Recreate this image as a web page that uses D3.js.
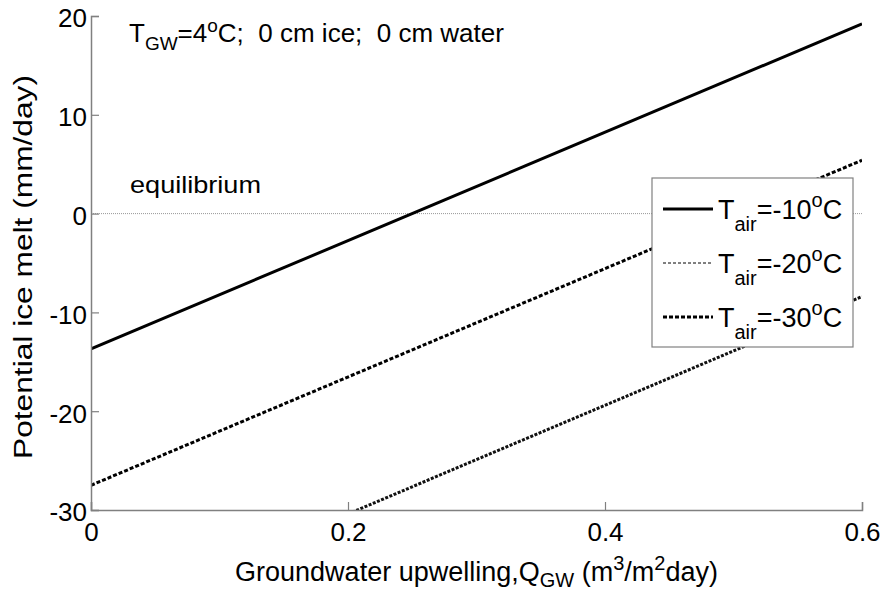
<!DOCTYPE html>
<html>
<head>
<meta charset="utf-8">
<script src="https://cdn.jsdelivr.net/npm/d3@7"></script>
<style>
html,body{margin:0;padding:0;background:#fff;}
text{font-family:"Liberation Sans",Arial,sans-serif;fill:#000;white-space:pre;}
</style>
</head>
<body>
<svg id="chart" width="883" height="596"></svg>
<script>
// Data
const qgw = [0, 0.6];
const meltTair10 = [-13.7, 19.2];
const meltTair20 = [-41.4, -8.4];
const meltTair30 = [-27.5, 5.4];
const xTicks = [0, 0.2, 0.4, 0.6];
const yTicks = [-30, -20, -10, 0, 10, 20];
const legendTemps = ["-10", "-20", "-30"];

const svg = d3.select("#chart");
const L = 91, T = 16, R = 862, B = 510;
const x = d3.scaleLinear().domain([0, 0.6]).range([L, R]);
const y = d3.scaleLinear().domain([-30, 20]).range([B, T]);

svg.append("defs").append("clipPath").attr("id","clip")
  .append("rect").attr("x", L).attr("y", T).attr("width", R - L).attr("height", B - T);

// equilibrium line
svg.append("line").attr("x1", x(0)).attr("x2", x(0.6)).attr("y1", y(0)).attr("y2", y(0))
  .attr("stroke", "#999").attr("stroke-width", 1).attr("stroke-dasharray", "1,1");

const line = d3.line().x(d => x(d[0])).y(d => y(d[1]));
const g = svg.append("g").attr("clip-path", "url(#clip)");
const series = [
  {v: meltTair10, w: 3, dash: null, c: "#000"},
  {v: meltTair30, w: 3, dash: "4,2", c: "#000"},
  {v: meltTair20, w: 3, dash: "3,1.5", c: "#111"}
];
series.forEach(s => {
  g.append("path").datum(qgw.map((q, i) => [q, s.v[i]]))
    .attr("d", line).attr("fill", "none").attr("stroke", s.c)
    .attr("stroke-width", s.w).attr("stroke-dasharray", s.dash);
});

// axes
const axisColor = "#808080";
const fmt = d => (d < 0 ? "-" : "") + (Number.isInteger(d) ? Math.abs(d) : d3.format(".1f")(Math.abs(d)));
const xAxis = svg.append("g").attr("transform", `translate(0,${B})`)
  .call(d3.axisBottom(x).tickValues(xTicks).tickSize(-8).tickPadding(13).tickFormat(fmt));
const yAxis = svg.append("g").attr("transform", `translate(${L},0)`)
  .call(d3.axisLeft(y).tickValues(yTicks).tickSize(-8).tickPadding(4).tickFormat(fmt));
[xAxis, yAxis].forEach(a => {
  a.select(".domain").attr("stroke", axisColor).attr("stroke-width", 1.5);
  a.selectAll(".tick line").attr("stroke", axisColor).attr("stroke-width", 1.2);
  a.selectAll(".tick text").attr("font-size", 26).attr("font-family", "Liberation Sans, Arial, sans-serif").attr("fill", "#000");
});
yAxis.selectAll(".tick text").attr("dy", "0.42em");
xAxis.selectAll(".tick text").attr("dy", "0.71em");

// axis labels
const xl = svg.append("text").attr("x", (L + R) / 2).attr("y", 581).attr("font-size", 27).attr("text-anchor", "middle");
xl.append("tspan").text("Groundwater upwelling,Q");
xl.append("tspan").attr("font-size", 20).attr("dy", 6).text("GW");
xl.append("tspan").attr("dy", -6).text(" (m");
xl.append("tspan").attr("font-size", 20).attr("dy", -11).text("3");
xl.append("tspan").attr("dy", 11).text("/m");
xl.append("tspan").attr("font-size", 20).attr("dy", -11).text("2");
xl.append("tspan").attr("dy", 11).text("day)");

svg.append("text").attr("transform", `translate(32,${(T + B) / 2 + 4}) rotate(-90)`)
  .attr("text-anchor", "middle").attr("font-size", 26)
  .attr("textLength", 384).attr("lengthAdjust", "spacingAndGlyphs")
  .text("Potential ice melt (mm/day)");

// annotation
const an = svg.append("text").attr("x", 129).attr("y", 42).attr("font-size", 26);
an.append("tspan").text("T");
an.append("tspan").attr("font-size", 19).attr("dy", 8).text("GW");
an.append("tspan").attr("dy", -8).text("=4");
an.append("tspan").attr("font-size", 19).attr("dy", -10).text("o");
an.append("tspan").attr("dy", 10).text("C;  0 cm ice;  0 cm water");

svg.append("text").attr("x", 130).attr("y", 193).attr("font-size", 24)
  .attr("textLength", 131).attr("lengthAdjust", "spacingAndGlyphs").text("equilibrium");

// legend
const lg = svg.append("g");
lg.append("rect").attr("x", 652).attr("y", 178).attr("width", 201).attr("height", 169)
  .attr("fill", "#fff").attr("stroke", axisColor).attr("stroke-width", 1.2);
const legStyles = [
  {w: 3, dash: null},
  {w: 1, dash: "3,2"},
  {w: 3, dash: "4,2"}
];
legendTemps.forEach((t, i) => {
  const cy = 209 + i * 54;
  lg.append("line").attr("x1", 663).attr("x2", 713).attr("y1", cy).attr("y2", cy)
    .attr("stroke", "#000").attr("stroke-width", legStyles[i].w).attr("stroke-dasharray", legStyles[i].dash);
  const tx = lg.append("text").attr("x", 718).attr("y", cy + 10).attr("font-size", 27);
  tx.append("tspan").text("T");
  tx.append("tspan").attr("font-size", 20).attr("dy", 12).text("air");
  tx.append("tspan").attr("dy", -12).text("=" + t);
  tx.append("tspan").attr("font-size", 20).attr("dy", -12).text("o");
  tx.append("tspan").attr("dy", 12).text("C");
});
</script>
</body>
</html>
